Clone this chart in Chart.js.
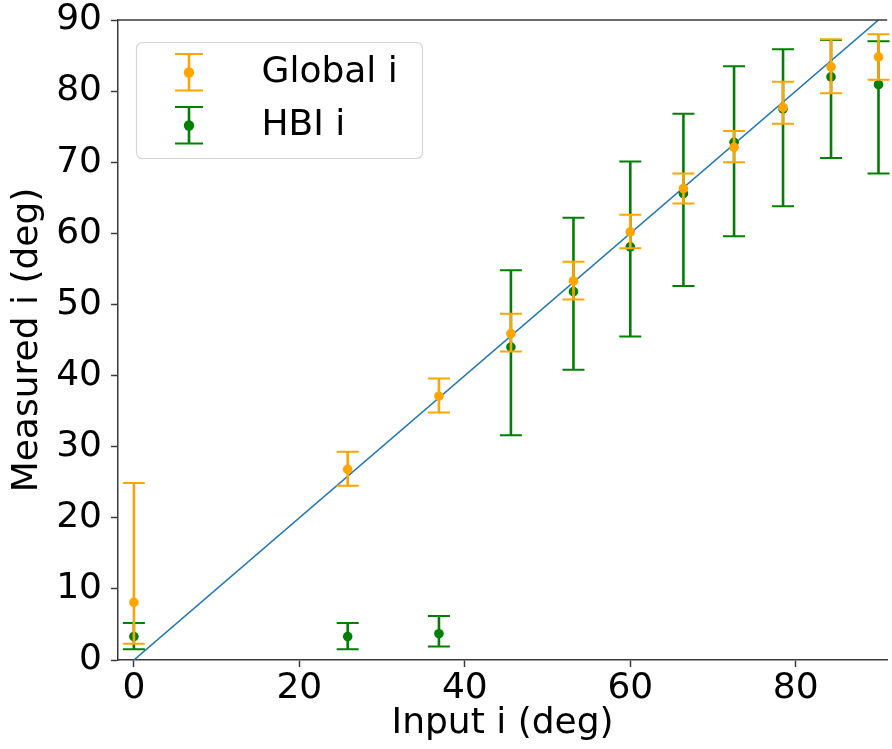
<!DOCTYPE html>
<html>
<head>
<meta charset="utf-8">
<script src="https://cdn.jsdelivr.net/npm/chart.js@4/dist/chart.umd.min.js"></script>
<style>
  html, body { margin: 0; padding: 0; background: #ffffff; overflow: hidden; }
  canvas { display: block; }
</style>
</head>
<body>
<canvas id="chart" width="892" height="749"></canvas>
<script>
// Input inclination of each test case (deg)
const inputAngles = [0, 25.84, 36.87, 45.57, 53.13, 60, 66.42, 72.54, 78.46, 84.26, 90];

// Global fit: measured value with lower / upper error limits
const globalMeasured = [8.1, 26.8, 37.1, 45.9, 53.3, 60.2, 66.3, 72.1, 77.7, 83.4, 84.8];
const globalLow      = [2.3, 24.5, 34.8, 43.4, 50.7, 57.9, 64.2, 70.0, 75.4, 79.7, 81.6];
const globalHigh     = [24.9, 29.3, 39.6, 48.7, 56.0, 62.6, 68.4, 74.4, 81.3, 87.3, 88.0];

// HBI fit: measured value with lower / upper error limits
const hbiMeasured = [3.3, 3.3, 3.7, 44.0, 51.8, 58.1, 65.6, 72.8, 77.5, 82.0, 80.9];
const hbiLow      = [1.5, 1.5, 1.9, 31.6, 40.8, 45.5, 52.6, 59.6, 63.8, 70.6, 68.4];
const hbiHigh     = [5.2, 5.2, 6.2, 54.8, 62.2, 70.1, 76.8, 83.5, 85.9, 87.2, 87.0];

// One-to-one reference line
const identityLine = [0, 90];

const xTicks = [0, 20, 40, 60, 80];
const yTicks = [0, 10, 20, 30, 40, 50, 60, 70, 80, 90];
const seriesLabels = ['Global i', 'HBI i'];

const ORANGE = '#ffa500';
const GREEN = '#008000';
const BLUE = '#1f77b4';
const AXIS = '#3a3a3a';
const FAMILY = '"DejaVu Sans", "Liberation Sans", sans-serif';

const toPoints = (xs, ys) => xs.map((x, i) => ({ x: x, y: ys[i] }));

// Vertical bar with end caps
function drawErrorGlyph(ctx, x, yTop, yBottom, color, capHalf, barWidth, capWidth) {
  ctx.save();
  ctx.strokeStyle = color;
  ctx.lineCap = 'butt';
  ctx.lineWidth = barWidth;
  ctx.beginPath();
  ctx.moveTo(x, yTop);
  ctx.lineTo(x, yBottom);
  ctx.stroke();
  ctx.lineWidth = capWidth;
  ctx.beginPath();
  ctx.moveTo(x - capHalf, yTop);
  ctx.lineTo(x + capHalf, yTop);
  ctx.moveTo(x - capHalf, yBottom);
  ctx.lineTo(x + capHalf, yBottom);
  ctx.stroke();
  ctx.restore();
}

// Error bars are painted just before each dataset's markers
const errorBarPlugin = {
  id: 'errorBars',
  beforeDatasetDraw(chart, args) {
    const ds = chart.data.datasets[args.index];
    if (!ds.errLow || !ds.errHigh) return;
    const xs = chart.scales.x, ys = chart.scales.y;
    const ctx = chart.ctx;
    ds.data.forEach((p, i) => {
      const px = xs.getPixelForValue(p.x);
      const top = ys.getPixelForValue(ds.errHigh[i]);
      const bottom = ys.getPixelForValue(ds.errLow[i]);
      drawErrorGlyph(ctx, px, top, bottom, ds.borderColor, 11, 2.6, 2);
    });
  }
};

// Upper spine of the plotting frame
const framePlugin = {
  id: 'frame',
  afterDraw(chart) {
    const { ctx, chartArea } = chart;
    ctx.save();
    ctx.strokeStyle = AXIS;
    ctx.lineWidth = 1.5;
    ctx.beginPath();
    ctx.moveTo(chartArea.left, chartArea.top);
    ctx.lineTo(chartArea.right, chartArea.top);
    ctx.stroke();
    ctx.restore();
  }
};

// Legend box in the upper-left corner of the plot
const insideLegendPlugin = {
  id: 'insideLegend',
  afterDraw(chart) {
    const ctx = chart.ctx;
    const area = chart.chartArea;
    const bx = area.left + 18.5, by = area.top + 22.5, bw = 286, bh = 116, r = 6;
    ctx.save();
    ctx.beginPath();
    ctx.moveTo(bx + r, by);
    ctx.lineTo(bx + bw - r, by);
    ctx.arcTo(bx + bw, by, bx + bw, by + r, r);
    ctx.lineTo(bx + bw, by + bh - r);
    ctx.arcTo(bx + bw, by + bh, bx + bw - r, by + bh, r);
    ctx.lineTo(bx + r, by + bh);
    ctx.arcTo(bx, by + bh, bx, by + bh - r, r);
    ctx.lineTo(bx, by + r);
    ctx.arcTo(bx, by, bx + r, by, r);
    ctx.closePath();
    ctx.fillStyle = 'rgba(255,255,255,0.8)';
    ctx.fill();
    ctx.strokeStyle = '#d6d6d6';
    ctx.lineWidth = 1.2;
    ctx.stroke();

    const entries = [
      { label: seriesLabels[0], color: ORANGE, cy: by + 30 },
      { label: seriesLabels[1], color: GREEN, cy: by + 83 }
    ];
    entries.forEach(e => {
      const gx = bx + 52.5;
      drawErrorGlyph(ctx, gx, e.cy - 18.5, e.cy + 18, e.color, 14, 2.6, 2);
      ctx.fillStyle = e.color;
      ctx.beginPath();
      ctx.arc(gx, e.cy, 5.2, 0, Math.PI * 2);
      ctx.fill();
      ctx.fillStyle = '#000000';
      ctx.font = '36px ' + FAMILY;
      ctx.textAlign = 'left';
      ctx.textBaseline = 'middle';
      ctx.fillText(e.label, bx + 125, e.cy);
    });
    ctx.restore();
  }
};

const tickFont = { family: FAMILY, size: 36, lineHeight: 1 };
const titleFont = { family: FAMILY, size: 36, lineHeight: 1.2 };

new Chart(document.getElementById('chart'), {
  type: 'scatter',
  data: {
    datasets: [
      {
        label: seriesLabels[0],
        data: toPoints(inputAngles, globalMeasured),
        errLow: globalLow,
        errHigh: globalHigh,
        borderColor: ORANGE,
        backgroundColor: ORANGE,
        pointRadius: 4.8,
        pointBorderWidth: 0,
        showLine: false,
        clip: false
      },
      {
        label: seriesLabels[1],
        data: toPoints(inputAngles, hbiMeasured),
        errLow: hbiLow,
        errHigh: hbiHigh,
        borderColor: GREEN,
        backgroundColor: GREEN,
        pointRadius: 4.8,
        pointBorderWidth: 0,
        showLine: false,
        clip: false
      },
      {
        type: 'line',
        label: 'y = x',
        data: toPoints(identityLine, identityLine),
        borderColor: BLUE,
        borderWidth: 1.6,
        pointRadius: 0,
        fill: false
      }
    ]
  },
  options: {
    responsive: false,
    devicePixelRatio: 1,
    animation: false,
    layout: { padding: { top: 20, right: 0, bottom: 0, left: 0 } },
    plugins: {
      legend: { display: false },
      tooltip: { enabled: false }
    },
    scales: {
      x: {
        type: 'linear',
        min: -1.92,
        max: 91.05,
        afterBuildTicks: s => { s.ticks = xTicks.map(v => ({ value: v })); },
        afterFit: s => { s.height = 89; s.paddingLeft = 0; s.paddingRight = 0; },
        grid: { drawOnChartArea: false, drawTicks: true, tickLength: 7, tickWidth: 1.5, tickColor: AXIS },
        border: { display: true, color: AXIS, width: 1.5 },
        ticks: { font: tickFont, color: '#000000', padding: 4, maxRotation: 0, autoSkip: false },
        title: { display: true, text: 'Input i (deg)', font: titleFont, color: '#000000', padding: { top: 0, bottom: 4 } }
      },
      y: {
        type: 'linear',
        min: 0,
        max: 90,
        afterBuildTicks: s => { s.ticks = yTicks.map(v => ({ value: v })); },
        afterFit: s => { s.width = 118; s.paddingTop = 0; s.paddingBottom = 0; },
        grid: { drawOnChartArea: false, drawTicks: true, tickLength: 7, tickWidth: 1.5, tickColor: AXIS },
        border: { display: true, color: AXIS, width: 1.5 },
        ticks: { font: tickFont, color: '#000000', padding: 9, autoSkip: false },
        title: { display: true, text: 'Measured i (deg)', font: titleFont, color: '#000000', padding: { top: 6, bottom: 0 } }
      }
    }
  },
  plugins: [errorBarPlugin, framePlugin, insideLegendPlugin]
});
</script>
</body>
</html>
